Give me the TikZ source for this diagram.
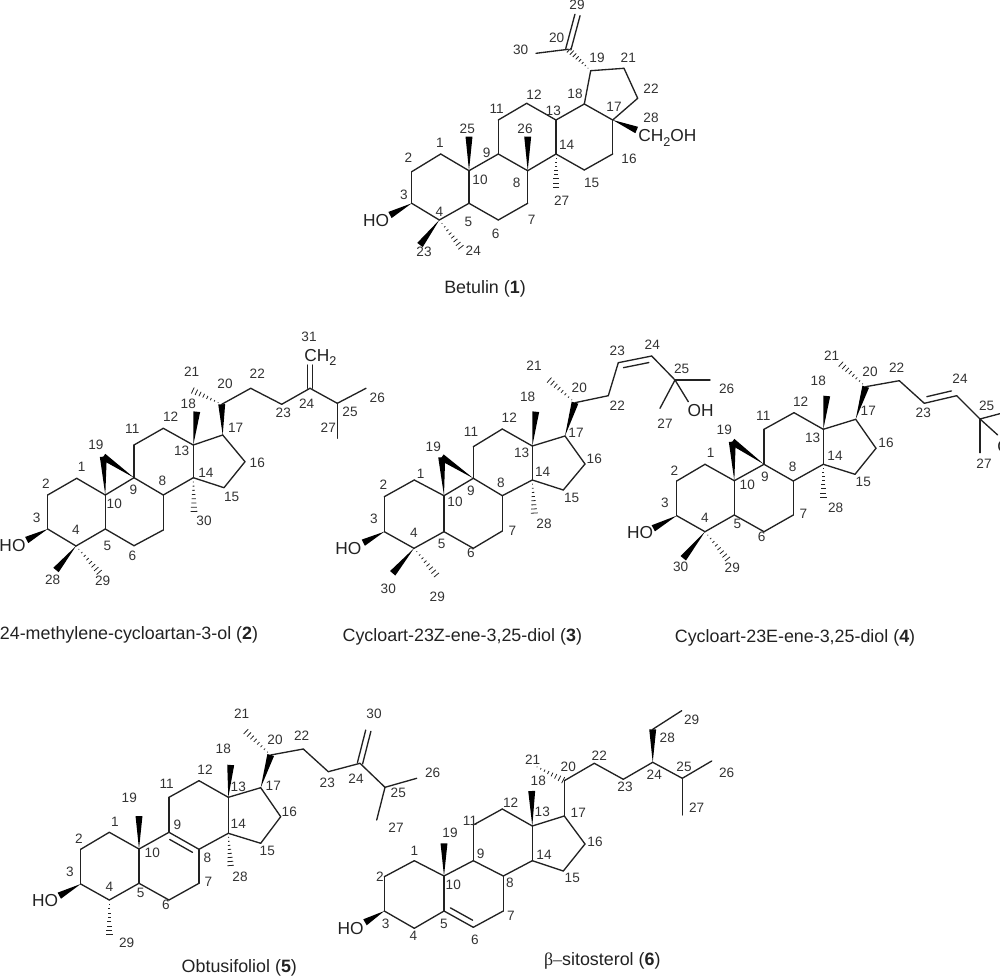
\documentclass[tikz,border=0pt]{standalone}
\usepackage{fontspec}
\setmainfont{Liberation Sans}
\newfontfamily\greekserif{Liberation Serif}
\usetikzlibrary{calc}
\definecolor{ink}{HTML}{222222}
\definecolor{numink}{HTML}{333333}
\tikzset{
  bond/.style={draw=ink,line width=1pt,line cap=round,line join=round},
  wedgefill/.style={fill=black},
  hashline/.style={draw=ink,line width=0.6pt},
  num/.style={text=numink,inner sep=0pt,font=\fontsize{10.2}{10.2}\selectfont},
  grp/.style={text=ink,inner sep=0pt,font=\fontsize{13}{13}\selectfont},
  captext/.style={text=ink,inner sep=0pt,font=\fontsize{13.4}{13.4}\selectfont},
}
\newcommand\molatoms[1]{\foreach \n/\x/\y in {#1}{\coordinate (c\n) at (\x,\y);}}
\newcommand\molnums[1]{\foreach \n/\x/\y in {#1}{\node[num] (n\n) at (\x,\y) {\n};}}
\newcommand\molbonds[1]{\foreach \a/\b in {#1}{\draw[bond] (c\a) -- (c\b);}}
\newcommand\wedgeb[2]{\fill[wedgefill] (#1) -- ($(#2)!2.6pt!90:(#1)$) -- ($(#2)!2.6pt!-90:(#1)$) -- cycle;}
\newcommand\hashb[2]{\foreach \k in {1,...,8}{\pgfmathsetmacro\hf{\k/8.3}\draw[hashline] ($(#1)!\hf!(#2)!\hf*2.6pt!90:(#2)$) -- ($(#1)!\hf!(#2)!\hf*2.6pt!-90:(#2)$);}}
\newcommand\dblb[2]{\draw[bond] ($(#1)!2pt!90:(#2)$) -- ($(#2)!2pt!-90:(#1)$);\draw[bond] ($(#1)!2pt!-90:(#2)$) -- ($(#2)!2pt!90:(#1)$);}
\newcommand\innerb[3]{\draw[bond] ($(#1)!.12!(#2)!4.4pt!#3:(#2)$) -- ($(#2)!.12!(#1)!4.4pt!-#3:(#1)$);}
\newcommand\subtwo{\raisebox{-0.28em}{\fontsize{9.5}{9.5}\selectfont 2}}
\begin{document}
\begin{tikzpicture}[x=0.75pt,y=-0.75pt]
\useasboundingbox (0,0) rectangle (1000,977);
% ---------- Betulin
\begin{scope}[name prefix=a-]
\molatoms{1/440.7/154,2/411.7/171.7,3/411.7/203.3,4/439.3/220,5/469/203.3,6/498.3/220,7/527.7/203.3,8/527.7/170.7,9/498.3/154,10/469/170.7,11/498.3/120,12/526.7/103.3,13/556/120,14/556/154,15/584.3/170,16/612.7/154,17/612.7/120,18/584.3/104,19/590.7/70.7,20/568.3/49.3,21/624/68.3,22/637.7/98.3,23/420/245,24/461.7/248.3,25/469/136.7,26/527.7/136.7,27/556/188.3,28/636.7/130,29/577.5/15,30/536/53.3,0/390/215}
\molbonds{1/2,2/3,3/4,4/5,5/10,10/1,10/9,9/8,8/7,7/6,6/5,9/11,11/12,12/13,13/14,14/8,14/15,15/16,16/17,17/18,18/13,18/19,19/21,21/22,22/17,20/30}
\dblb{c20}{c29}
\wedgeb{c3}{c0}\wedgeb{c4}{c23}\wedgeb{c10}{c25}\wedgeb{c8}{c26}\wedgeb{c17}{c28}
\hashb{c4}{c24}\hashb{c14}{c27}\hashb{c19}{c20}
\molnums{29/577/5,20/556.7/37.7,30/520.7/50,19/597/58.3,21/628.3/57.3,22/651/88.7,12/534/94.3,18/575/94.3,11/496.7/108.7,13/553.3/110.7,17/614/107.3,28/651/118.3,25/467.3/129.3,26/525/129.3,1/440/142.7,2/408.3/157.3,9/486.7/153.3,14/566.7/145,16/629/159,10/480/180,8/516.7/182.7,15/591.7/183.3,27/561.7/201,3/404/195,4/439.3/212.3,5/468.3/221.7,7/531.7/220,6/495.7/234.3,23/424/251.7,24/473.3/250.7}
\node[grp] (ho) at (376,220.7) {HO};
\node[grp,anchor=base west] (oh) at (638,142) {CH\subtwo OH};
\node[captext] (title) at (485,289) {Betulin (\textbf{1})};
\end{scope}
% ---------- 24-methylene-cycloartan-3-ol
\begin{scope}[name prefix=b-]
\molatoms{1/76.7/478.3,2/47.7/495,3/47.7/529,4/76/546,5/105.3/529,6/134/545.7,7/163.3/530,8/163.3/495,9/134/477.7,10/105.3/495,11/134/445,12/163.3/428.3,13/193.3/445,14/193.3/477.7,15/224/487.7,16/245/461.7,17/222.7/435,18/196.7/411.7,19/103.3/456.7,20/221.7/404.3,21/191.7/390,22/250.7/388.3,23/281.7/404.3,24/310/388.3,25/337.3/403.3,26/366/388.3,27/337.3/438.3,28/56/570,29/100/573.3,30/194/512.7,31/310/365,0/26.7/540}
\molbonds{1/2,2/3,3/4,4/5,5/10,10/1,10/9,9/8,8/7,7/6,6/5,9/11,11/12,12/13,13/14,14/8,14/15,15/16,16/17,17/13,20/22,22/23,23/24,24/25,25/26,25/27}
\dblb{c24}{c31}
\wedgeb{c3}{c0}\wedgeb{c4}{c28}\wedgeb{c13}{c18}\wedgeb{c17}{c20}\wedgeb{c10}{c19}\wedgeb{c9}{c19}
\hashb{c4}{c29}\hashb{c14}{c30}\hashb{c20}{c21}
\molnums{31/309/337,21/191.7/371.7,20/225/384.3,22/257.3/374,18/188.3/404,12/170.7/416.7,23/283.3/412.7,24/306.7/404,17/235.7/427.7,11/132.3/429.3,27/328.3/427.3,19/96/445,13/181.7/450.7,16/257.3/462.7,1/81.7/466.7,14/206/473.3,2/46/483.3,8/162.3/481,9/133.3/490,10/114.3/504.3,15/231.7/497.3,3/36.7/517.7,30/204/521,4/76/530,5/107.3/545.7,6/132.3/555.7,28/52.7/580,29/102.7/580.7,25/350/412.3,26/377.3/397.7}
\node[grp] (ho) at (12.5,545.7) {HO};
\node[grp,anchor=base west] (ch) at (304,361) {CH\subtwo};
\node[captext] (title) at (129,635) {24-methylene-cycloartan-3-ol (\textbf{2})};
\end{scope}
% ---------- Cycloart-23Z
\begin{scope}[name prefix=c-]
\molatoms{1/414.3/480,2/384.3/496.7,3/384.3/531.7,4/414/548.3,5/444/531.7,6/473.3/548.3,7/502.3/531,8/502.3/495.7,9/473.3/478.3,10/444/495.7,11/473.3/446.7,12/502.3/429,13/532.3/446,14/532.3/480,15/563.3/490,16/585/464,17/565/436,18/535.7/411.7,19/441.7/457.3,20/575/402.7,21/548.3/379.3,22/608.3/395.7,23/618.3/362.7,24/651.7/356,25/675/380,26/710/380,27/660/408.3,28/534.3/514.3,29/437.3/576,30/392.7/573.3,31/688.3/401.7,0/363.3/542.7}
\molbonds{1/2,2/3,3/4,4/5,5/10,10/1,10/9,9/8,8/7,7/6,6/5,9/11,11/12,12/13,13/14,14/8,14/15,15/16,16/17,17/13,20/22,22/23,23/24,24/25,25/26,25/27,25/31}
\innerb{c23}{c24}{-90}
\wedgeb{c3}{c0}\wedgeb{c4}{c30}\wedgeb{c13}{c18}\wedgeb{c17}{c20}\wedgeb{c10}{c19}\wedgeb{c9}{c19}
\hashb{c4}{c29}\hashb{c14}{c28}\hashb{c20}{c21}
\molnums{21/534/366,20/579.3/388.3,23/617.3/351,24/652.3/345,18/527.7/397.3,22/617.3/406,12/509.3/417.3,11/471/431.7,17/576/432.7,19/433.3/446.7,13/521.7/453.3,16/594.3/459,1/420.7/474.3,14/542.7/472.3,2/383.3/485,8/501/483.3,9/471/490.7,10/455/501.7,15/571.7/497.7,3/374/519.3,28/544/524,7/512.3/530.7,4/414/532.7,5/441.7/544,6/471/553.3,30/388.3/589,29/437.3/596.7,25/681.7/369,26/726.7/389,27/665/423.3}
\node[grp] (ho) at (348.3,549) {HO};
\node[grp] (oh) at (700.7,411) {OH};
\node[captext] (title) at (462.3,636.7) {Cycloart-23Z-ene-3,25-diol (\textbf{3})};
\end{scope}
% ---------- Cycloart-23E
\begin{scope}[name prefix=d-]
\molatoms{1/705/464.3,2/676.7/481,3/676.7/515.7,4/705/531.7,5/734.3/515,6/764/531.7,7/793.3/515,8/793.3/481,9/764/464.3,10/734.3/480.7,11/764/429.3,12/794/412.7,13/823.3/429.3,14/823.3/464.3,15/855/474.3,16/876/448.3,17/855.7/419.3,18/826.7/396,19/732.3/441.7,20/865.7/386.7,21/840/363.3,22/899.3/380.7,23/924.3/403.3,24/956.7/395.7,25/980/419,26/1010/411,27/980/452.7,28/823.3/498.3,29/728.3/560,30/683.3/558.3,31/997.7/435,0/653.3/528.3}
\molbonds{1/2,2/3,3/4,4/5,5/10,10/1,10/9,9/8,8/7,7/6,6/5,9/11,11/12,12/13,13/14,14/8,14/15,15/16,16/17,17/13,20/22,22/23,23/24,24/25,25/26,25/27,25/31}
\innerb{c23}{c24}{90}
\wedgeb{c3}{c0}\wedgeb{c4}{c30}\wedgeb{c13}{c18}\wedgeb{c17}{c20}\wedgeb{c10}{c19}\wedgeb{c9}{c19}
\hashb{c4}{c29}\hashb{c14}{c28}\hashb{c20}{c21}
\molnums{21/831.7/356,20/870/371.7,22/896.7/367.7,24/960/378.3,18/818.3/380.7,12/800.7/401.7,23/923.3/413.3,11/763.3/415.7,17/868.3/411,25/986.7/406,19/724.3/430,13/812.7/438.3,16/886/443.3,1/710.7/452.7,14/835/456,2/674.3/470.7,8/792.7/466.7,9/765/476.7,15/863.3/482.3,10/747.3/485,27/984/464,3/665/503.3,28/835.7/508.3,7/803.3/514.3,4/705/517.7,5/737.3/524.3,6/761.7/536.7,30/680.7/566.7,29/732.3/568}
\node[grp] (ho) at (640,532.7) {HO};
\node[grp,anchor=west] (oh) at (997,447) {OH};
\node[captext] (title) at (795,638.3) {Cycloart-23E-ene-3,25-diol (\textbf{4})};
\end{scope}
% ---------- Obtusifoliol
\begin{scope}[name prefix=e-]
\molatoms{1/109.3/832.3,2/80.7/849.3,3/80.7/884,4/109.3/900,5/139/883.3,6/169/900,7/199/883.3,8/199/849.3,9/169/832.3,10/139/849,11/169/797.3,12/199/780.7,13/228.3/797.3,14/228.3/833.3,15/260.7/843.3,16/280.7/816.7,17/260.7/787.7,18/230.7/765,19/139/816,20/270.7/755,21/245/730.7,22/303.3/749,23/328.3/771.7,24/360/763.3,25/385/787.3,26/416.7/778.3,27/376.7/820,28/230.7/866.7,29/109.3/936,30/368.3/730.7,0/59.3/895.7}
\molbonds{1/2,2/3,3/4,4/5,5/10,10/1,10/9,9/8,8/7,7/6,6/5,9/11,11/12,12/13,13/14,14/8,14/15,15/16,16/17,17/13,20/22,22/23,23/24,24/25,25/26,25/27}
\dblb{c24}{c30}
\innerb{c9}{c8}{-90}
\wedgeb{c3}{c0}\wedgeb{c10}{c19}\wedgeb{c13}{c18}\wedgeb{c17}{c20}
\hashb{c4}{c29}\hashb{c14}{c28}\hashb{c20}{c21}
\molnums{21/241.7/713.3,30/374/714,20/275/740,22/301.7/735.7,18/223.3/749.3,12/205/770,11/166.7/784.3,23/327.3/783.3,24/356/778.3,17/273.3/786,13/238.3/786.7,25/398.3/793.3,19/129.3/798.3,16/289.3/812.3,1/115/821.7,9/177.3/825,14/238.3/824,27/396/827.7,2/79/838.3,10/152.3/853.3,15/267.3/850.7,8/207.3/858.3,3/70/871.7,7/208.3/882.3,4/109.3/886.7,5/140.7/893.3,28/240/876.7,6/166/905,29/126.7/943.3,26/432.7/773.3}
\node[grp] (ho) at (45,900.7) {HO};
\node[captext] (title) at (239.3,967.7) {Obtusifoliol (\textbf{5})};
\end{scope}
% ---------- beta-sitosterol
\begin{scope}[name prefix=f-]
\molatoms{1/414.3/860.7,2/384.3/876.7,3/384.3/911,4/414.3/928.3,5/444/911,6/473.3/927.3,7/503.3/911,8/503.3/876,9/473.3/860.7,10/444/876,11/473.3/825,12/502.3/809,13/532.3/826,14/532.3/860.7,15/563.3/871,16/585/844,17/564.3/816,18/531.7/791,19/444/843.3,20/564.3/780.7,21/533.3/765,22/594.3/763.3,23/623.3/779.3,24/652.7/762.3,25/682.3/778.3,26/711.7/761,27/682.3/815,28/652.7/729.3,29/681.7/710.7,0/365/922.3}
\molbonds{1/2,2/3,3/4,4/5,5/10,10/1,10/9,9/8,8/7,7/6,6/5,9/11,11/12,12/13,13/14,14/8,14/15,15/16,16/17,17/13,17/20,20/22,22/23,23/24,24/25,25/26,25/27,28/29}
\innerb{c5}{c6}{90}
\wedgeb{c3}{c0}\wedgeb{c10}{c19}\wedgeb{c13}{c18}\wedgeb{c24}{c28}
\hashb{c21}{c20}
\molnums{29/691.7/720,28/667.3/738.3,21/532.7/759.3,20/568.3/766.7,22/599.3/756,25/684/766.7,26/726.7/773.3,18/538.3/781,24/654.3/774.3,23/625/787.3,12/510.7/802.3,27/696.7/807.3,13/542.3/811.7,17/578.3/813.3,11/470/820.7,19/450/832.7,16/595/842.3,1/414.3/851.3,9/480.7/854,14/544/855,2/380/876.7,15/572.3/878.3,10/453.3/885,8/510/883.3,7/511/916,3/385.7/924.3,5/444/924,4/413.3/936,6/475/940}
\node[grp] (ho) at (350.7,929) {HO};
\node[captext] (title) at (602.3,960.7) {{\greekserif β–}sitosterol (\textbf{6})};
\end{scope}
\end{tikzpicture}
\end{document}
